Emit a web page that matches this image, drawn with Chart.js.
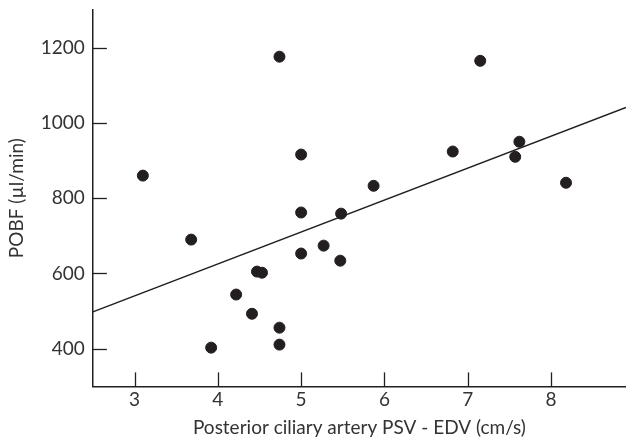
<!DOCTYPE html>
<html>
<head>
<meta charset="utf-8">
<script src="https://cdn.jsdelivr.net/npm/chart.js@4"></script>
<style>
  html, body { margin: 0; padding: 0; background: #fff; }
  #wrap { width: 626px; height: 440px; }
</style>
</head>
<body>
<div id="wrap"><canvas id="pobfChart"></canvas></div>
<script>
// PSV - EDV (cm/s) vs POBF (ul/min)
var psvEdv = [3.10, 3.68, 3.92, 4.22, 4.41, 4.47, 4.53, 4.74, 4.74, 4.74, 5.00,
              5.00, 5.00, 5.27, 5.48, 5.47, 5.87, 6.82, 7.15, 7.57, 7.62, 8.18];
var pobf = [860, 690, 403, 544, 493, 605, 602, 1176, 456, 411, 916,
            762, 653, 674, 759, 634, 833, 924, 1165, 910, 950, 841];
// regression line end points
var fitX = [2.5, 8.9];
var fitY = [498, 1041];
var xTicks = [3, 4, 5, 6, 7, 8];
var yTicks = [400, 600, 800, 1000, 1200];

var ink = "#231f20";
var textColor = "#333";
var fontFamily = "Lato, 'DejaVu Sans', sans-serif";

var points = psvEdv.map(function (x, i) { return { x: x, y: pobf[i] }; });
var fitLine = fitX.map(function (x, i) { return { x: x, y: fitY[i] }; });

// short tick marks pointing into the plot area
var innerTicks = {
  id: "innerTicks",
  afterDraw: function (chart) {
    var c = chart.ctx;
    var xs = chart.scales.x, ys = chart.scales.y;
    c.save();
    c.strokeStyle = ink;
    c.lineWidth = 1.3;
    xTicks.forEach(function (t) {
      var px = Math.round(xs.getPixelForValue(t)) + 0.5;
      c.beginPath();
      c.moveTo(px, ys.bottom);
      c.lineTo(px, ys.bottom - 14);
      c.stroke();
    });
    yTicks.forEach(function (t) {
      var py = Math.round(ys.getPixelForValue(t)) + 0.5;
      c.beginPath();
      c.moveTo(xs.left, py);
      c.lineTo(xs.left + 14, py);
      c.stroke();
    });
    c.restore();
  }
};

function noEdgePadding(scale) {
  scale.paddingTop = 0;
  scale.paddingBottom = 0;
  scale.paddingLeft = 0;
  scale.paddingRight = 0;
}

var ctx = document.getElementById("pobfChart").getContext("2d");
var pobfChart = new Chart(ctx, {
  type: "scatter",
  data: {
    datasets: [
      {
        label: "Eyes",
        data: points,
        backgroundColor: ink,
        borderColor: ink,
        pointRadius: 5.5,
        pointHoverRadius: 5.5,
        order: 1
      },
      {
        type: "line",
        label: "Fit",
        data: fitLine,
        borderColor: ink,
        borderWidth: 1.6,
        pointRadius: 0,
        fill: false,
        order: 2
      }
    ]
  },
  options: {
    responsive: true,
    maintainAspectRatio: false,
    animation: false,
    events: [],
    layout: { autoPadding: false, padding: { top: 10, right: 0, left: 5, bottom: 1 } },
    plugins: { legend: { display: false }, tooltip: { enabled: false } },
    scales: {
      x: {
        type: "linear",
        min: 2.5,
        max: 8.9,
        afterBuildTicks: function (scale) {
          scale.ticks = xTicks.map(function (v) { return { value: v }; });
        },
        afterFit: noEdgePadding,
        grid: { display: false, drawTicks: false },
        border: { display: true, color: ink, width: 1.5 },
        ticks: {
          color: textColor,
          padding: 2,
          maxRotation: 0,
          font: { family: fontFamily, size: 19 },
          callback: function (v) { return String(v); }
        },
        title: {
          display: true,
          text: "Posterior ciliary artery PSV - EDV (cm/s)",
          color: textColor,
          padding: { top: 3, bottom: 0 },
          font: { family: fontFamily, size: 19 }
        }
      },
      y: {
        type: "linear",
        min: 300,
        max: 1300,
        afterBuildTicks: function (scale) {
          scale.ticks = yTicks.map(function (v) { return { value: v }; });
        },
        afterFit: noEdgePadding,
        grid: { display: false, drawTicks: false },
        border: { display: true, color: ink, width: 1.5 },
        ticks: {
          color: textColor,
          padding: 8,
          font: { family: fontFamily, size: 19 },
          callback: function (v) { return String(v); }
        },
        title: {
          display: true,
          text: "POBF (\u00b5l/min)",
          color: textColor,
          padding: { top: 0, bottom: 5 },
          font: { family: fontFamily, size: 19 }
        }
      }
    }
  },
  plugins: [innerTicks]
});
</script>
</body>
</html>
